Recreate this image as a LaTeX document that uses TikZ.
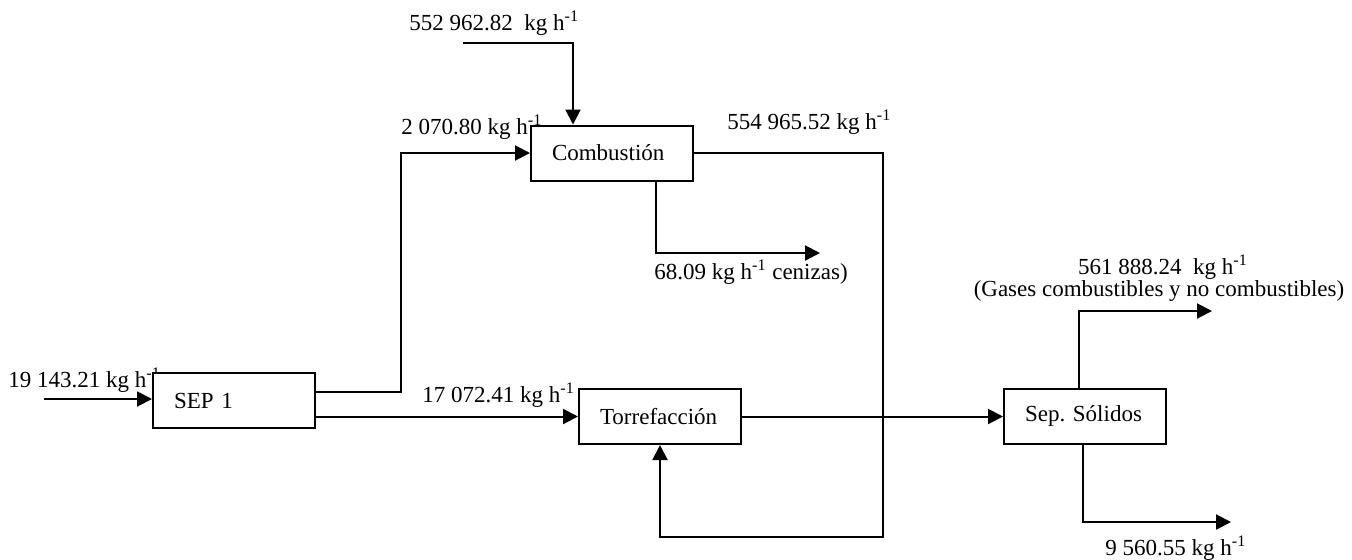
\documentclass[tikz,border=0pt]{standalone}
\usepackage{fontspec}
\setmainfont{Liberation Serif}
\usetikzlibrary{arrows.meta}

\begin{document}
\begin{tikzpicture}[
		x=0.5pt, y=-0.5pt,
		font=\fontsize{11.5}{13}\selectfont,
		box/.style={draw, fill=white, line width=1pt, align=left, text width=60pt, inner xsep=10.5pt, minimum height=27.5pt},
		lbl/.style={inner sep=0pt, anchor=west},
		arrow/.style={-{Triangle[length=7.5pt, width=7.5pt]}, line width=1pt}
	]
		\useasboundingbox (0,0) rectangle (1352,559);

		% caudales
		\node[lbl] (lin) at (8,380) {19 143.21 kg h\textsuperscript{-1}};
		\node[lbl] (laire) at (409,23) {552 962.82\ \ kg h\textsuperscript{-1}};
		\node[lbl] (lcomb) at (401,127) {2 070.80 kg h\textsuperscript{-1}};
		\node[lbl] (lgas) at (727,122) {554 965.52 kg h\textsuperscript{-1}};
		\node[lbl] (lcen) at (654,272) {68.09 kg h\textsuperscript{-1} cenizas)};
		\node[lbl] (ltorr) at (422,395) {17 072.41 kg h\textsuperscript{-1}};
		\node[lbl, anchor=center] (lsal) at (1163,267) {561 888.24\ \ kg h\textsuperscript{-1}};
		\node[lbl, anchor=center] (lsal2) at (1159,291) {(Gases combustibles y no combustibles)};
		\node[lbl] (lsol) at (1105,548) {9 560.55 kg h\textsuperscript{-1}};

		% equipos
		\node[box] (sep) at (234,400.5) {SEP 1};
		\node[box] (comb) at (612,153) {Combustión};
		\node[box] (torr) at (660,416.5) {Torrefacción};
		\node[box] (sepsol) at (1085,416) {Sep.\ Sólidos};

		\coordinate (entrada) at (44,399);
		\coordinate (aire) at (463,43);
		\coordinate (b1) at (401,153);
		\coordinate (r1) at (883,537);
		\coordinate (cenizas) at (820,253);
		\coordinate (gases) at (1212,311);
		\coordinate (solidos) at (1231,522);

		\draw[arrow] (entrada) -- (entrada -| sep.west);
		\draw[arrow] ([yshift=4.25pt]sep.east) -| (b1) -- (comb.west);
		\draw[arrow] (sep.east |- torr.west) -- (torr.west);
		\draw[arrow] (aire) -| ([xshift=-19.5pt]comb.north);
		\draw[arrow] (comb.east) -| (r1) -| (torr.south);
		\draw[arrow] ([xshift=22pt]comb.south) |- (cenizas);
		\draw[arrow] (torr.east) -- (torr.east -| sepsol.west);
		\draw[arrow] ([xshift=-3pt]sepsol.north) |- (gases);
		\draw[arrow] ([xshift=-1pt]sepsol.south) |- (solidos);
	\end{tikzpicture}
\end{document}
